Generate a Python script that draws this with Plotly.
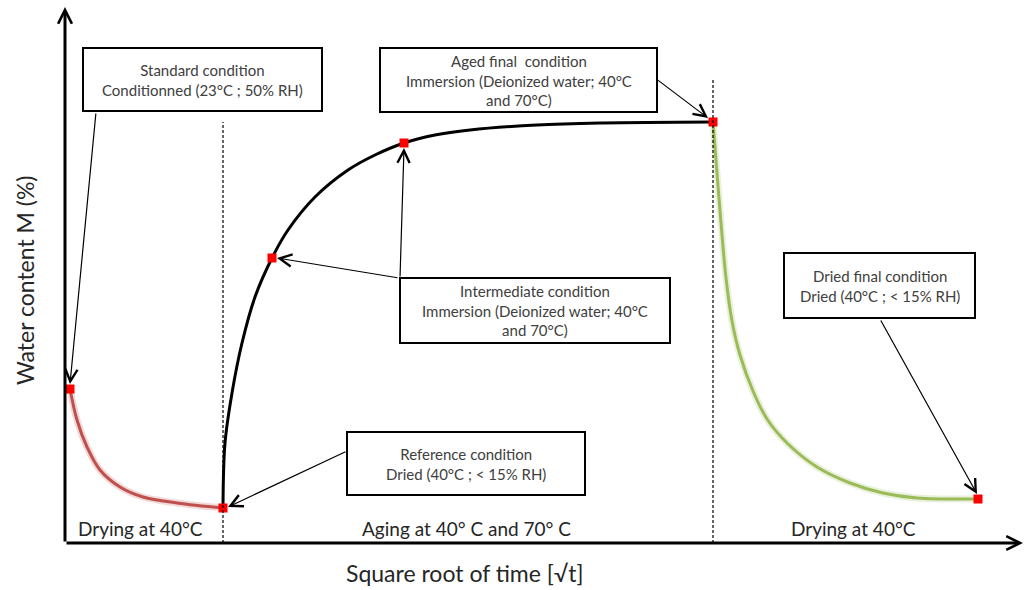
import plotly.graph_objects as go

# schematic units (arbitrary): x = sqrt(time), y = water content
drying1_x = [5, 12, 22, 35, 55, 78, 112, 158]
drying1_y = [154, 123, 96, 73, 56, 46, 40, 35]

aging_x = [158, 160, 167, 177, 190, 207, 223, 250, 283, 310, 339, 370, 405, 472, 538, 648]
aging_y = [35, 100, 150, 200, 246, 285, 313, 346, 373, 388, 400, 408, 413, 418, 420, 421]

drying2_x = [648, 652, 656, 661, 667, 675, 688, 702, 722, 752, 785, 818, 852, 913]
drying2_y = [421, 370, 320, 265, 222, 188, 152, 124, 100, 76, 60, 50, 45, 44]

cond_names = ["Standard", "Reference", "Intermediate", "Intermediate", "Aged final", "Dried final"]
cond_x = [5, 158, 207, 339, 648, 913]
cond_y = [154, 35, 285, 400, 421, 44]

phase_bounds = [158, 648]
phase_labels = ["Drying at 40°C", "Aging at 40° C and 70° C", "Drying at 40°C"]

FONT = "Lato"
BOX_TXT = "#404040"

fig = go.Figure()

# dashed phase separators
fig.add_shape(type="line", x0=phase_bounds[0], x1=phase_bounds[0], y0=0, y1=421,
              line=dict(color="black", width=1.2, dash="3px,2px"))
fig.add_shape(type="line", x0=phase_bounds[1], x1=phase_bounds[1], y0=0, y1=463,
              line=dict(color="black", width=1.2, dash="3px,2px"))

# soft glow under the coloured curves
fig.add_trace(go.Scatter(x=drying1_x, y=drying1_y, mode="lines", line=dict(color="rgba(192,80,77,0.22)", width=7, shape="spline"), hoverinfo="skip"))
fig.add_trace(go.Scatter(x=drying2_x, y=drying2_y, mode="lines", line=dict(color="rgba(155,187,89,0.22)", width=7, shape="spline"), hoverinfo="skip"))

fig.add_trace(go.Scatter(x=drying1_x, y=drying1_y, mode="lines", line=dict(color="#C0504D", width=3, shape="spline"), name="Drying"))
fig.add_trace(go.Scatter(x=aging_x, y=aging_y, mode="lines", line=dict(color="black", width=3, shape="spline"), name="Aging"))
fig.add_trace(go.Scatter(x=drying2_x, y=drying2_y, mode="lines", line=dict(color="#9BBB59", width=3, shape="spline"), name="Drying final"))

fig.add_trace(go.Scatter(x=cond_x, y=cond_y, mode="markers", text=cond_names,
                         marker=dict(symbol="square", size=9, color="#FF0000"), name="Conditions"))

# axes with arrows
fig.add_annotation(x=0, y=536, ax=0, ay=0, xref="x", yref="y", axref="x", ayref="y", text="",
                   showarrow=True, arrowhead=5, arrowsize=0.9, arrowwidth=3, arrowcolor="black")
fig.add_annotation(x=958, y=0, ax=0, ay=0, xref="x", yref="y", axref="x", ayref="y", text="",
                   showarrow=True, arrowhead=5, arrowsize=0.9, arrowwidth=3, arrowcolor="black")

# condition boxes: (x0, x1, y0, y1, lines)
boxes = [
    (18, 257, 432, 495, ["Standard condition", "Conditionned (23°C ; 50% RH)"]),
    (315, 592, 431, 495, ["Aged final  condition", "Immersion (Deionized water; 40°C", "and 70°C)"]),
    (335, 605, 200, 265, ["Intermediate condition", "Immersion (Deionized water; 40°C", "and 70°C)"]),
    (282, 520, 48, 111, ["Reference condition", "Dried (40°C ; < 15% RH)"]),
    (719, 910, 225, 290, ["Dried final condition", "Dried (40°C ; < 15% RH)"]),
]
for x0, x1, y0, y1, lines in boxes:
    fig.add_shape(type="rect", x0=x0, x1=x1, y0=y0, y1=y1,
                  line=dict(color="black", width=2), fillcolor="white", layer="below")
    fig.add_annotation(x=(x0 + x1) / 2, y=(y0 + y1) / 2, text="<br>".join(lines), showarrow=False,
                       font=dict(family=FONT, size=15, color=BOX_TXT), align="center")

# pointer arrows: (tail_x, tail_y, head_x, head_y)
pointers = [
    (31, 431, 5, 159),
    (590, 465, 643, 425),
    (334, 265, 212, 285),
    (335, 265, 339, 395),
    (282, 92, 163, 36),
    (815, 224, 912, 49),
]
for tx, ty, hx, hy in pointers:
    fig.add_annotation(x=hx, y=hy, ax=tx, ay=ty, xref="x", yref="y", axref="x", ayref="y", text="",
                       showarrow=True, arrowhead=5, arrowsize=2, arrowwidth=1.2, arrowcolor="black")

# phase labels
for lx, lab in zip([75, 401, 788], phase_labels):
    fig.add_annotation(x=lx, y=15, text=lab, showarrow=False,
                       font=dict(family=FONT, size=19, color="#262626"))

fig.add_annotation(x=400, y=-30, text="Square root of time [√t]", showarrow=False,
                   font=dict(family=FONT, size=23, color="#262626"))
fig.add_annotation(x=-40, y=263, text="Water content M (%)", showarrow=False, textangle=-90,
                   font=dict(family=FONT, size=23, color="#262626"))

fig.update_layout(
    width=1026,
    height=590,
    margin=dict(l=0, r=0, t=0, b=0),
    plot_bgcolor="white",
    paper_bgcolor="white",
    showlegend=False,
    xaxis=dict(range=[-65, 961], visible=False),
    yaxis=dict(range=[-47, 543], visible=False),
)

fig.write_html("out.html", config={"displayModeBar": False},
               post_script="document.body.style.margin='0px';")
